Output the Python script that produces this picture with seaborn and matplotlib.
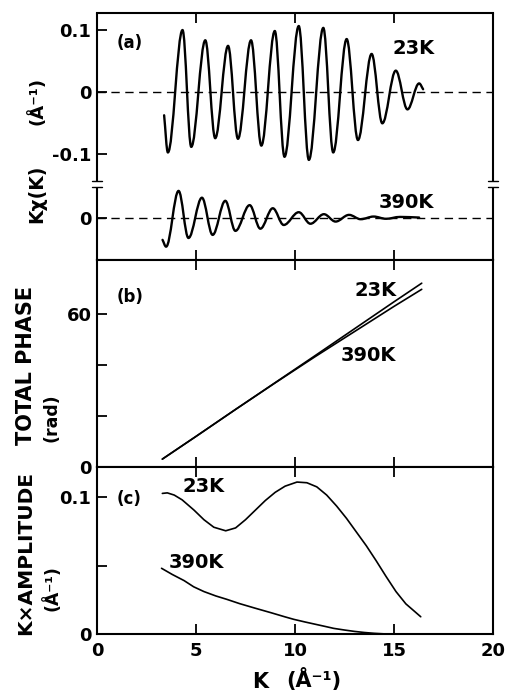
import numpy as np
import matplotlib
matplotlib.use("Agg")
import matplotlib.pyplot as plt
import seaborn as sns
from matplotlib.path import Path
from matplotlib.patches import PathPatch

# ---------------- data ----------------
# (a) k*chi(k): start point, successive extrema, end point
k_chi_23 = [3.39, 3.58, 4.32, 4.76, 5.47, 5.97, 6.62, 7.12, 7.78, 8.30, 8.98, 9.47,
            10.19, 10.70, 11.43, 11.93, 12.61, 13.18, 13.87, 14.41, 15.09, 15.68,
            16.27, 16.47]
chi_23 = [-0.038, -0.098, 0.0995, -0.089, 0.083, -0.075, 0.074, -0.076, 0.083,
          -0.087, 0.098, -0.105, 0.106, -0.110, 0.103, -0.098, 0.085, -0.078,
          0.061, -0.051, 0.034, -0.0285, 0.0134, 0.004]
k_chi_390 = [3.31, 3.49, 4.12, 4.62, 5.30, 5.84, 6.48, 6.99, 7.71, 8.25, 8.88, 9.43,
             10.19, 10.78, 11.46, 12.05, 12.73, 13.32, 13.97, 14.6, 15.3, 16.27]
chi_390 = [-0.036, -0.047, 0.043, -0.033, 0.032, -0.028, 0.027, -0.0215, 0.020,
           -0.018, 0.015, -0.012, 0.0086, -0.010, 0.0054, -0.0065, 0.0043, -0.0027,
           0.0016, -0.002, 0.001, 0.0]
chi_390_offset = -0.203

# (b) total phase
k_phase = [3.3, 5.0, 7.0, 9.0, 11.0, 13.0, 15.0, 16.4]
phase_23 = [3.1, 12.0, 22.6, 33.1, 43.6, 54.2, 64.8, 72.1]
phase_390 = [3.1, 12.0, 22.6, 33.0, 43.2, 53.1, 63.0, 69.7]

# (c) k x amplitude
k_amp_23 = [3.3, 3.55, 3.9, 4.3, 4.9, 5.4, 5.9, 6.5, 7.0, 7.5, 8.0, 8.5, 9.0, 9.5,
            10.1, 10.6, 11.1, 11.6, 12.1, 12.6, 13.1, 13.6, 14.1, 14.6, 15.1, 15.6,
            16.0, 16.35]
amp_23 = [0.1027, 0.1031, 0.1015, 0.0980, 0.0905, 0.0835, 0.0780, 0.0754, 0.0775,
          0.0835, 0.0905, 0.0975, 0.1035, 0.1080, 0.1110, 0.1105, 0.1075, 0.1015,
          0.0935, 0.0845, 0.0745, 0.0645, 0.0535, 0.0420, 0.0310, 0.0220, 0.0170,
          0.0126]
k_amp_390 = [3.26, 3.8, 4.4, 4.88, 5.4, 6.0, 6.56, 7.2, 8.0, 8.8, 9.5, 9.94, 10.5,
             11.0, 11.5, 11.96, 12.5, 13.0, 13.5, 14.0, 14.5, 15.0]
amp_390 = [0.0480, 0.0435, 0.0390, 0.0345, 0.0310, 0.0278, 0.0253, 0.0222, 0.0188,
           0.0155, 0.0125, 0.0107, 0.0088, 0.0072, 0.0056, 0.0041, 0.0029, 0.0019,
           0.0011, 0.0005, 0.0001, 0.0]

x_ticks = [0, 5, 10, 15, 20]
x_tick_labels = ["0", "5", "10", "15", "20"]
chi_ticks = [0.1, 0.0, -0.1, chi_390_offset]
chi_tick_labels = ["0.1", "0", "-0.1", "0"]
phase_ticks = [0, 20, 40, 60]
phase_tick_labels = ["0", "", "", "60"]
amp_ticks = [0, 0.05, 0.1]
amp_tick_labels = ["0", "", "0.1"]

# ---------------- style ----------------
sns.set_style("ticks")
plt.rcParams["font.family"] = ["DejaVu Sans"]
plt.rcParams["font.weight"] = "bold"
plt.rcParams["axes.linewidth"] = 1.5
for key in ("text.color", "axes.labelcolor", "xtick.color", "ytick.color", "axes.edgecolor"):
    plt.rcParams[key] = "black"

W, H = 509, 695
fig = plt.figure(figsize=(W / 100, H / 100), dpi=100)
fig.patch.set_facecolor("white")


def px_axes(top, bottom, left=97, right=493):
    return fig.add_axes([left / W, 1 - bottom / H, (right - left) / W, (bottom - top) / H])


ax_a = px_axes(13, 260)
ax_b = px_axes(260, 467)
ax_c = px_axes(467, 634)


def smooth_path(xs, ys, c=0.36):
    verts = [(xs[0], ys[0])]
    codes = [Path.MOVETO]
    n = len(xs)
    for i in range(n - 1):
        x0, y0, x1, y1 = xs[i], ys[i], xs[i + 1], ys[i + 1]
        dx = x1 - x0
        c1 = (x0 + dx / 3, y0 + (y1 - y0) / 3) if i == 0 else (x0 + c * dx, y0)
        c2 = (x1 - dx / 3, y1 - (y1 - y0) / 3) if i == n - 2 else (x1 - c * dx, y1)
        verts += [c1, c2, (x1, y1)]
        codes += [Path.CURVE4] * 3
    return Path(verts, codes)


# ---- panel (a)
for base in (0.0, chi_390_offset):
    ax_a.axhline(base, color="black", lw=1.0, ls=(0, (6, 4)))
ax_a.add_patch(PathPatch(smooth_path(k_chi_23, chi_23), fill=False, ec="black",
                         lw=1.7, capstyle="round", joinstyle="round"))
ax_a.add_patch(PathPatch(smooth_path(k_chi_390, list(np.array(chi_390) + chi_390_offset)),
                         fill=False, ec="black", lw=1.7, capstyle="round", joinstyle="round"))
ax_a.set_ylim(-0.2715, 0.127)
ax_a.set_yticks(chi_ticks)
ax_a.set_yticklabels(chi_tick_labels)

# broken left/right spines
for side in ("left", "right"):
    ax_a.spines[side].set_visible(False)
g_top, g_bot = (260 - 181) / 247, (260 - 187) / 247
sw = 5 / 396
for xs in (0.0, 1.0):
    ax_a.plot([xs, xs], [1, g_top], transform=ax_a.transAxes, color="black", lw=1.5,
              clip_on=False, solid_capstyle="butt")
    ax_a.plot([xs, xs], [g_bot, 0], transform=ax_a.transAxes, color="black", lw=1.5,
              clip_on=False, solid_capstyle="butt")
    ax_a.plot([xs - sw, xs + sw], [g_top, g_top], transform=ax_a.transAxes, color="black",
              lw=1.0, clip_on=False)
    ax_a.plot([xs - sw, xs + sw], [g_bot, g_bot], transform=ax_a.transAxes, color="black",
              lw=1.0, clip_on=False)

# ---- panel (b)
sns.lineplot(x=k_phase, y=phase_23, ax=ax_b, color="black", lw=1.2)
sns.lineplot(x=k_phase, y=phase_390, ax=ax_b, color="black", lw=1.2)
ax_b.set_ylim(0, 81.2)
ax_b.set_yticks(phase_ticks)
ax_b.set_yticklabels(phase_tick_labels)

# ---- panel (c)
sns.lineplot(x=k_amp_23, y=amp_23, ax=ax_c, color="black", lw=1.2)
sns.lineplot(x=k_amp_390, y=amp_390, ax=ax_c, color="black", lw=1.2)
ax_c.set_ylim(0, 0.122)
ax_c.set_yticks(amp_ticks)
ax_c.set_yticklabels(amp_tick_labels)

for ax in (ax_a, ax_b, ax_c):
    ax.set_xlim(0, 20)
    ax.set_xticks(x_ticks)
    ax.set_xlabel("")
    ax.set_ylabel("")
    ax.tick_params(axis="both", direction="in", length=7, width=1.3, top=True,
                   bottom=True, right=False, left=True, labelsize=13, colors="black")
    for lab in ax.get_yticklabels():
        lab.set_fontweight("bold")
    ax.tick_params(axis="y", pad=4)
    if ax is not ax_c:
        ax.set_xticklabels([])
ax_c.set_xticklabels(x_tick_labels, fontweight="bold")
ax_c.tick_params(axis="x", pad=6)


def ftext(x, y, s, size, rot=0):
    fig.text(x / W, 1 - y / H, s, ha="center", va="center", fontsize=size,
             fontweight="bold", rotation=rot, color="black")


ftext(130, 43, "(a)", 12)
ftext(414, 49, "23K", 14)
ftext(406, 202, "390K", 14)
ftext(130, 297, "(b)", 12)
ftext(376, 290, "23K", 14)
ftext(368, 355, "390K", 14)
ftext(129, 499, "(c)", 12)
ftext(204, 487, "23K", 14)
ftext(196, 562, "390K", 14)

ftext(37, 194, "Kχ(K)", 13.5, 90)
ftext(37, 101, "(Å⁻¹)", 13, 90)
ftext(26, 365, "TOTAL PHASE", 15, 90)
ftext(52, 418, "(rad)", 12.5, 90)
ftext(26, 553, "K×AMPLITUDE", 14.5, 90)
ftext(52, 588, "(Å⁻¹)", 12.5, 90)
ftext(260, 682, "K", 15)
ftext(314, 680, "(Å⁻¹)", 15)

fig.savefig("out.png", dpi=100, facecolor="white")
